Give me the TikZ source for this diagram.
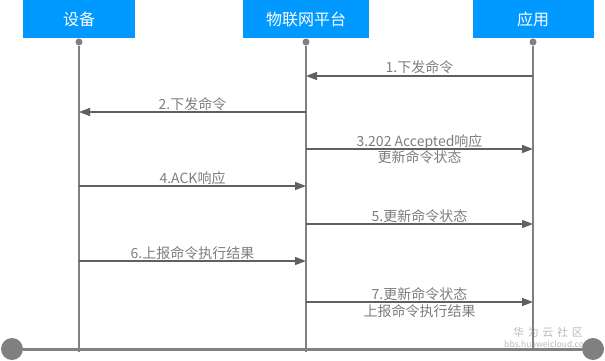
\documentclass[tikz,border=0pt]{standalone}
\usepackage{fontspec}
\setmainfont{Noto Sans CJK SC}
\usetikzlibrary{arrows.meta,calc}
\definecolor{boxblue}{RGB}{0,153,255}
\definecolor{lifegrey}{RGB}{128,128,128}
\definecolor{arrowgrey}{RGB}{96,96,96}
\definecolor{labelgrey}{RGB}{125,125,125}
\definecolor{wmgrey}{RGB}{185,185,185}
\begin{document}
\begin{tikzpicture}[x=1pt,y=-1pt,
  actor/.style={fill=boxblue, text=white, minimum height=38pt, inner sep=0pt, font=\fontsize{16}{19}\selectfont},
  life/.style={draw=lifegrey, line width=2pt},
  dotnode/.style={circle, fill=lifegrey, inner sep=0pt, minimum size=7pt},
  msg/.style={draw=arrowgrey, line width=1.5pt, -{Triangle[length=11pt,width=8pt]}},
  lbl/.style={text=labelgrey, font=\fontsize{14}{17}\selectfont, inner sep=0pt, anchor=base},
  endball/.style={circle, fill=lifegrey, inner sep=0pt, minimum size=22pt},
  wm/.style={text=wmgrey, inner sep=0pt}]
\useasboundingbox (0,0) rectangle (605,361);
% actors
\node[actor, minimum width=112pt] (dev) at (79,19) {设备};
\node[actor, minimum width=126pt] (plat) at (306,19) {物联网平台};
\node[actor, minimum width=121pt] (app) at (533,19) {应用};
% dots and lifeline ends
\node[dotnode] (devdot) at (79,42) {};
\node[dotnode] (platdot) at (306,42) {};
\node[dotnode] (appdot) at (533,42) {};
\coordinate (devend) at (79,352);
\coordinate (platend) at (306,352);
\coordinate (append) at (533,350);
% watermark
\node[wm, font=\fontsize{11}{12}\selectfont] (wm1) at (548,332) {华\,\,为\,\,云\,\,社\,\,区};
\node[wm, font=\fontsize{8.5}{10}\selectfont] (wm2) at (548,344) {bbs.huaweicloud.com};
% lifelines
\draw[life] (devdot) -- (devend);
\draw[life] (platdot) -- (platend);
\draw[life] (appdot) -- (append);
% bottom bar
\node[endball] (lball) at (12,349) {};
\node[endball] (rball) at (593,349) {};
\draw[draw=lifegrey, line width=3pt] (lball) -- (rball);
% message rows
\coordinate (m1) at (0,76);
\coordinate (m2) at (0,112);
\coordinate (m3) at (0,149);
\coordinate (m4) at (0,186);
\coordinate (m5) at (0,224);
\coordinate (m6) at (0,261);
\coordinate (m7) at (0,302);
% messages
\draw[msg] (appdot |- m1) -- node[lbl, midway, yshift=3pt] {1.下发命令} (platdot |- m1);
\draw[msg] (platdot |- m2) -- node[lbl, midway, yshift=3pt] {2.下发命令} (devdot |- m2);
\draw[msg] (platdot |- m3) -- node[lbl, midway, yshift=3pt] {3.202 Accepted响应}
  node[lbl, midway, yshift=-13pt] {更新命令状态} (appdot |- m3);
\draw[msg] (devdot |- m4) -- node[lbl, midway, yshift=3pt] {4.ACK响应} (platdot |- m4);
\draw[msg] (platdot |- m5) -- node[lbl, midway, yshift=3pt] {5.更新命令状态} (appdot |- m5);
\draw[msg] (devdot |- m6) -- node[lbl, midway, yshift=3pt] {6.上报命令执行结果} (platdot |- m6);
\draw[msg] (platdot |- m7) -- node[lbl, midway, yshift=3pt] {7.更新命令状态}
  node[lbl, midway, yshift=-14pt] {上报命令执行结果} (appdot |- m7);
\end{tikzpicture}
\end{document}
